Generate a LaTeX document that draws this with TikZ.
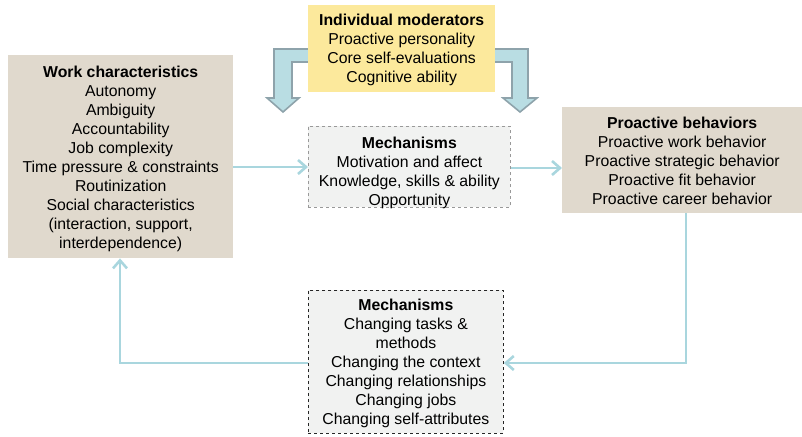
\documentclass[tikz,border=0pt]{standalone}
\usepackage{fontspec}
\setmainfont{Liberation Sans}
\usetikzlibrary{arrows.meta}
\definecolor{beige}{HTML}{E0D9CD}
\definecolor{yel}{HTML}{FCE99C}
\definecolor{mech}{HTML}{F1F2F1}
\definecolor{fatfill}{HTML}{B9DDE3}
\definecolor{fatline}{HTML}{8EA3AB}
\definecolor{conn}{HTML}{A9D6DE}
\tikzset{
  x=1pt, y=-1pt,
  txt/.style={font=\fontsize{15.8}{19}\selectfont, align=center, inner sep=0pt, text=black},
  boxb/.style={fill=beige, draw=none, inner sep=0pt, anchor=north west},
  boxy/.style={fill=yel, draw=none, inner sep=0pt, anchor=north west},
  boxm/.style={fill=mech, draw=gray!80, dashed, line width=0.8pt, inner sep=0pt, anchor=north west},
  boxk/.style={fill=mech, draw=black!85, dashed, line width=0.8pt, inner sep=0pt, anchor=north west},
  fat/.style={fill=fatfill, draw=fatline, line width=1.6pt, line join=miter},
  con/.style={draw=conn, line width=2.6pt, -{Straight Barb[length=8pt,width=14pt,line width=2.6pt]}},
}
\begin{document}
\begin{tikzpicture}
\useasboundingbox (0,0) rectangle (802,436);
% fat arrows
\draw[fat] (310,49) -- (274,49) -- (274,98) -- (267,98) -- (283,112) -- (299,98) -- (292,98) -- (292,62) -- (310,62);
\draw[fat] (493,49) -- (528,49) -- (528,98) -- (537,98) -- (520,112) -- (503,98) -- (512,98) -- (512,62) -- (493,62);
% boxes
\node[boxy, minimum width=187pt, minimum height=87pt] (indb) at (308,5) {};
\node[txt] (ind) at ([yshift=-1.5pt]indb.center) {\textbf{Individual moderators}\\Proactive personality\\Core self-evaluations\\Cognitive ability};
\node[boxb, minimum width=225pt, minimum height=203pt] (workb) at (8,55) {};
\node[txt] (work) at ([yshift=-2.5pt]workb.center) {\textbf{Work characteristics}\\Autonomy\\Ambiguity\\Accountability\\Job complexity\\Time pressure \& constraints\\Routinization\\Social characteristics\\(interaction, support,\\interdependence)};
\node[boxm, minimum width=202pt, minimum height=81pt] (m1b) at (308,126) {};
\node[txt] (m1) at ([yshift=-6.5pt]m1b.center) {\textbf{Mechanisms}\\Motivation and affect\\Knowledge, skills \& ability\\Opportunity};
\node[boxb, minimum width=240pt, minimum height=106pt] (prob) at (562,107) {};
\node[txt] (pro) at ([yshift=-1pt]prob.center) {\textbf{Proactive behaviors}\\Proactive work behavior\\Proactive strategic behavior\\Proactive fit behavior\\Proactive career behavior};
\node[boxk, minimum width=195pt, minimum height=143pt] (m2b) at (308,290) {};
\node[txt] (m2) at ([yshift=-1.5pt]m2b.center) {\textbf{Mechanisms}\\Changing tasks \&\\methods\\Changing the context\\Changing relationships\\Changing jobs\\Changing self-attributes};
% connectors
\coordinate (c1) at (686,363);
\coordinate (c2) at (120,363);
\draw[con] (workb.east |- 0,167) -- (m1b.west |- 0,167);
\draw[con] (m1b.east |- 0,168) -- (prob.west |- 0,168);
\draw[con] (prob.south -| c1) -- (c1) -- (m2b.east |- c1);
\draw[con] (m2b.west |- c2) -- (c2) -- (workb.south -| c2);
\end{tikzpicture}
\end{document}
